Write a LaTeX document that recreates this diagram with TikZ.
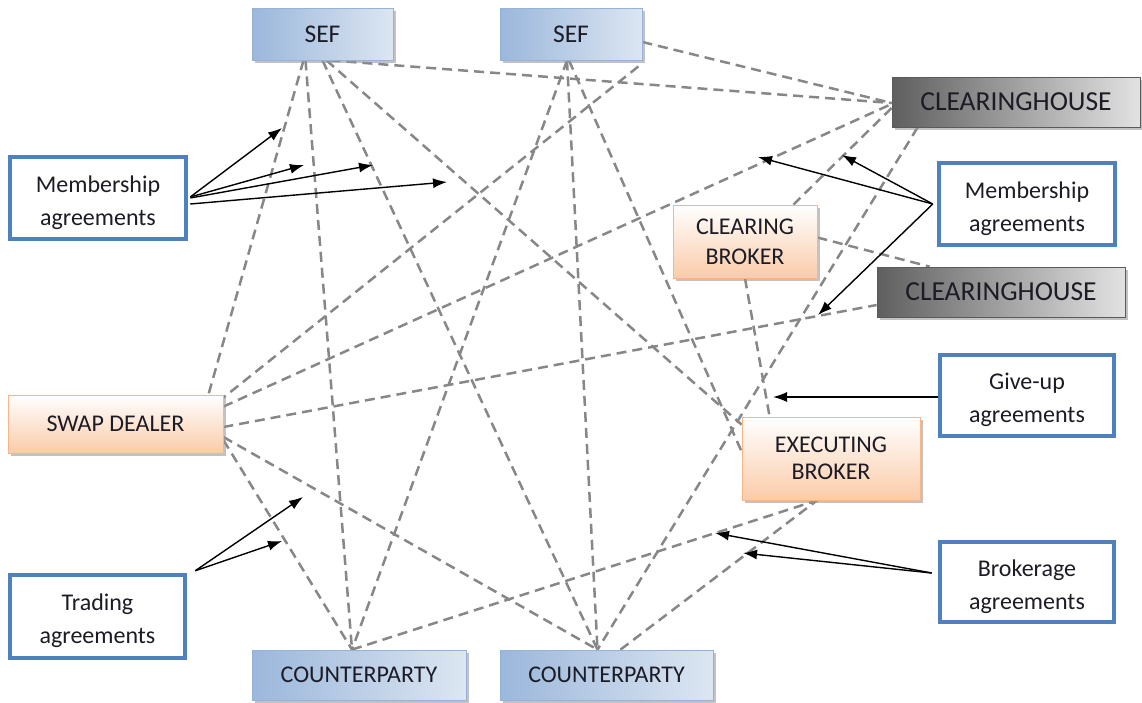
\documentclass[tikz,border=0pt]{standalone}
\usepackage{fontspec}
\setmainfont{Carlito}
\usetikzlibrary{arrows.meta,shadows,backgrounds}
\definecolor{dashgray}{RGB}{135,135,135}
\definecolor{agblue}{RGB}{79,129,189}
\definecolor{blueA}{RGB}{155,183,219}
\definecolor{blueB}{RGB}{220,230,242}
\definecolor{blueEdge}{RGB}{149,179,215}
\definecolor{peach}{RGB}{251,203,168}
\definecolor{peachEdge}{RGB}{247,182,138}
\definecolor{grayA}{RGB}{95,95,95}
\definecolor{grayB}{RGB}{226,226,226}
\definecolor{grayEdge}{RGB}{90,90,90}
\definecolor{txt}{RGB}{28,28,38}
\newcommand{\agtext}[2]{\raisebox{-4pt}[\height][\depth]{\begin{tabular}{@{}c@{}}#1\\#2\end{tabular}}}
\tikzset{
  boxtext/.style={font=\fontsize{24}{29}\selectfont, text=txt, align=center, inner sep=0pt},
  bluebox/.style={boxtext, draw=blueEdge, line width=0.8pt, left color=blueA, right color=blueB,
    drop shadow={shadow xshift=3pt, shadow yshift=-3pt, fill=black!40, opacity=0.6}},
  peachbox/.style={boxtext, draw=peachEdge, line width=0.8pt, top color=white, bottom color=peach,
    drop shadow={shadow xshift=3pt, shadow yshift=-3pt, fill=black!40, opacity=0.6}},
  graybox/.style={boxtext, font=\fontsize{27.5}{30}\selectfont, draw=grayEdge, line width=0.8pt, left color=grayA, right color=grayB,
    drop shadow={shadow xshift=3pt, shadow yshift=-3pt, fill=black!40, opacity=0.6}},
  agbox/.style={boxtext, font=\fontsize{24}{33}\selectfont, draw=agblue, line width=4.5pt, fill=white},
  link/.style={draw=dashgray, line width=2.5pt, dash pattern=on 10pt off 6pt},
  agarrow/.style={draw=black, line width=1.4pt, -{Latex[length=14pt,width=10pt]}}
}
\begin{document}
\begin{tikzpicture}[x=1pt,y=-1pt]
\useasboundingbox (0,0) rectangle (1142,702);

% entity boxes
\node[bluebox, minimum width=141pt, minimum height=52pt, font=\fontsize{25.5}{29}\selectfont] (sef1) at (322.5,34) {SEF};
\node[bluebox, minimum width=142pt, minimum height=52pt, font=\fontsize{25.5}{29}\selectfont] (sef2) at (571,34) {SEF};
\node[bluebox, minimum width=214pt, minimum height=50pt] (cp1) at (359,675) {COUNTERPARTY};
\node[bluebox, minimum width=213pt, minimum height=50pt] (cp2) at (606.5,675) {COUNTERPARTY};
\node[peachbox, minimum width=215pt, minimum height=58pt] (swap) at (115.5,424) {SWAP DEALER};
\node[peachbox, minimum width=144pt, minimum height=73pt, font=\fontsize{24}{30}\selectfont] (cb) at (745,241.5) {CLEARING\\BROKER};
\node[peachbox, minimum width=178pt, minimum height=83pt, font=\fontsize{24}{26.5}\selectfont] (exec) at (831,458.5) {EXECUTING\\BROKER};
\node[graybox, minimum width=248pt, minimum height=50pt] (ch1) at (1016,102) {CLEARINGHOUSE};
\node[graybox, minimum width=248pt, minimum height=50pt] (ch2) at (1001,292) {CLEARINGHOUSE};

% agreement boxes
\node[agbox, minimum width=176pt, minimum height=82pt] (memL) at (98,198) {\agtext{Membership}{agreements}};
\node[agbox, minimum width=176pt, minimum height=82pt] (memR) at (1027,204) {\agtext{Membership}{agreements}};
\node[agbox, minimum width=174pt, minimum height=81pt] (give) at (1027,395.5) {\agtext{Give-up}{agreements}};
\node[agbox, minimum width=174pt, minimum height=80pt] (brok) at (1027,582) {\agtext{Brokerage}{agreements}};
\node[agbox, minimum width=175pt, minimum height=83pt] (trade) at (97.5,616.5) {\agtext{Trading}{agreements}};

% dashed relationship lines
\begin{scope}[on background layer]
\draw[link] ([xshift=8pt]sef1.south) -- ([yshift=-1pt]ch1.west);
\draw[link] ([xshift=-19pt]sef1.south) -- ([xshift=-15pt]swap.north east);
\draw[link] ([xshift=-17pt]sef1.south) -- ([xshift=-7pt]cp1.north);
\draw[link] ([xshift=0pt]sef1.south) -- ([xshift=-9pt]cp2.north);
\draw[link] ([xshift=4pt]sef1.south) -- ([yshift=-8pt]exec.north west);
\draw[link] ([xshift=-4pt]sef2.south) -- ([xshift=-7pt]cp1.north);
\draw[link] ([xshift=-4pt]sef2.south) -- ([xshift=-9pt]cp2.north);
\draw[link] ([xshift=-2pt]sef2.south) -- ([yshift=-35pt]exec.north west);
\draw[link] ([xshift=-4pt,yshift=-6pt]sef2.south east) -- ([yshift=-3pt]swap.north east);
\draw[link] ([yshift=-8pt]sef2.east) -- ([yshift=-1pt]ch1.west);
\draw[link] ([yshift=-12pt]swap.north east) -- ([yshift=-2pt]ch1.west);
\draw[link] ([yshift=-3pt]swap.east) -- ([yshift=-13pt]ch2.west);
\draw[link] ([yshift=-16pt]swap.east) -- ([xshift=-7pt]cp1.north);
\draw[link] ([yshift=-13pt]swap.east) -- ([xshift=-9pt]cp2.north);
\draw[link] ([yshift=-6pt]ch1.west) -- ([xshift=-24pt]cb.north east);
\draw[link] ([xshift=26pt]ch1.south west) -- ([xshift=-9pt]cp2.north);
\draw[link] ([yshift=4pt]cb.east) -- ([xshift=53pt]ch2.north west);
\draw[link] (cb.south) -- ([xshift=28pt]exec.north west);
\draw[link] ([xshift=-7pt]cp1.north) -- ([xshift=-14pt]exec.south);
\draw[link] ([xshift=14pt]cp2.north) -- ([xshift=-14pt]exec.south);
\end{scope}

% arrow targets
\coordinate (mL1) at (282,128);
\coordinate (mL2) at (304,165);
\coordinate (mL3) at (373,165);
\coordinate (mL4) at (447,182);
\coordinate (mR1) at (758,157);
\coordinate (mR2) at (842,155);
\coordinate (mR3) at (818,315);
\coordinate (gu) at (773,397);
\coordinate (bk1) at (715,533);
\coordinate (bk2) at (743,553);
\coordinate (tr1) at (303,497);
\coordinate (tr2) at (282,541);

% agreement arrows
\draw[agarrow] ([xshift=2pt,yshift=1pt]memL.east) -- (mL1);
\draw[agarrow] ([xshift=2pt,yshift=1pt]memL.east) -- (mL2);
\draw[agarrow] ([xshift=2pt,yshift=0pt]memL.east) -- (mL3);
\draw[agarrow] ([xshift=2pt,yshift=-6pt]memL.east) -- (mL4);
\draw[agarrow] ([xshift=-4pt]memR.west) -- (mR1);
\draw[agarrow] ([xshift=-4pt]memR.west) -- (mR2);
\draw[agarrow] ([xshift=-4pt]memR.west) -- (mR3);
\draw[agarrow] ([yshift=-1.5pt]give.west) -- (gu);
\draw[agarrow] ([xshift=-6pt,yshift=9pt]brok.west) -- (bk1);
\draw[agarrow] ([xshift=-6pt,yshift=9pt]brok.west) -- (bk2);
\draw[agarrow] ([xshift=8pt,yshift=2pt]trade.north east) -- (tr1);
\draw[agarrow] ([xshift=8pt,yshift=2pt]trade.north east) -- (tr2);
\end{tikzpicture}
\end{document}
